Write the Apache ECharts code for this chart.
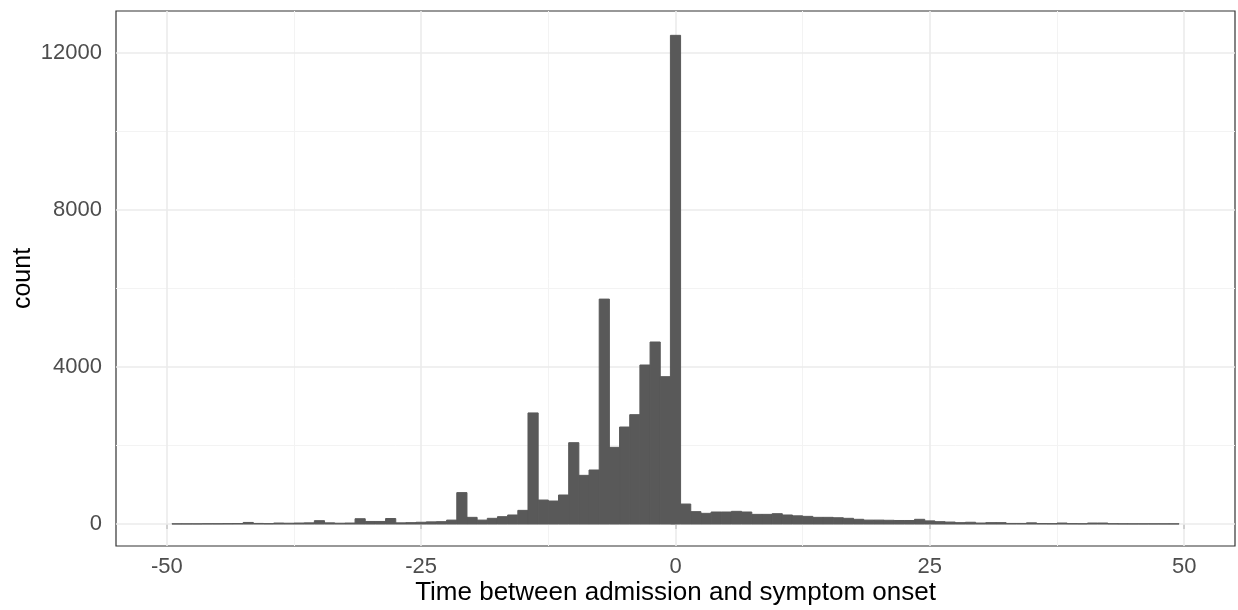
<!DOCTYPE html>
<html>
<head>
<meta charset="utf-8">
<script src="https://cdn.jsdelivr.net/npm/echarts@6/dist/echarts.min.js"></script>
<style>
  html, body { margin: 0; padding: 0; background: #ffffff; }
  #chart { width: 1238px; height: 610px; }
</style>
</head>
<body>
<div id="chart"></div>
<script>
// Days between admission and symptom onset: one bin per day, centred on whole days.
const binCentres = [
  -49, -48, -47, -46, -45, -44, -43, -42, -41, -40,
  -39, -38, -37, -36, -35, -34, -33, -32, -31, -30,
  -29, -28, -27, -26, -25, -24, -23, -22, -21, -20,
  -19, -18, -17, -16, -15, -14, -13, -12, -11, -10,
  -9, -8, -7, -6, -5, -4, -3, -2, -1, 0,
  1, 2, 3, 4, 5, 6, 7, 8, 9, 10,
  11, 12, 13, 14, 15, 16, 17, 18, 19, 20,
  21, 22, 23, 24, 25, 26, 27, 28, 29, 30,
  31, 32, 33, 34, 35, 36, 37, 38, 39, 40,
  41, 42, 43, 44, 45, 46, 47, 48, 49
];
const binCounts = [
  5, 5, 5, 8, 8, 10, 12, 40, 15, 10,
  25, 20, 25, 30, 85, 30, 20, 25, 135, 65,
  65, 140, 30, 35, 45, 55, 60, 100, 800, 170,
  100, 145, 187, 230, 348, 2830, 611, 586, 739, 2072,
  1240, 1376, 5730, 1954, 2471, 2786, 4051, 4637, 3754, 12450,
  509, 315, 272, 306, 306, 323, 306, 246, 246, 263,
  230, 209, 195, 170, 170, 160, 145, 120, 100, 100,
  95, 90, 90, 120, 80, 60, 50, 35, 45, 25,
  35, 35, 15, 15, 30, 12, 10, 25, 10, 8,
  25, 25, 8, 6, 5, 5, 5, 5, 5
];
const binWidth = 1;

// Axis breaks
const xMajorBreaks = [-50, -25, 0, 25, 50];
const xMinorBreaks = [-37.5, -12.5, 12.5, 37.5];
const yMajorBreaks = [0, 4000, 8000, 12000];
const yMinorBreaks = [2000, 6000, 10000];

const gridMajor = '#EBEBEB';
const gridMinor = '#F3F3F3';
const barFill = '#595959';

const histData = binCentres.map((c, i) => [c, binCounts[i]]);

function gridLines(values, axisKey, color, width) {
  return values.map(v => ({
    [axisKey]: v,
    lineStyle: { color: color, width: width, type: 'solid' }
  }));
}

const chart = echarts.init(document.getElementById('chart'), null, { renderer: 'canvas' });

chart.setOption({
  backgroundColor: '#ffffff',
  animation: false,
  grid: {
    left: 116, right: 3, top: 11, bottom: 64,
    containLabel: false,
    outerBoundsMode: 'none',
    show: true,
    backgroundColor: '#ffffff',
    borderColor: '#333333',
    borderWidth: 1.2
  },
  xAxis: {
    type: 'value',
    min: -55,
    max: 55,
    name: 'Time between admission and symptom onset',
    nameLocation: 'middle',
    nameMoveOverlap: false,
    nameGap: 34,
    nameTextStyle: { color: '#000000', fontSize: 26, fontFamily: 'Liberation Sans' },
    axisLine: { show: false },
    splitLine: { show: false },
    axisTick: {
      show: true, customValues: xMajorBreaks, length: 5,
      lineStyle: { color: '#333333', width: 1.5 }
    },
    axisLabel: {
      customValues: xMajorBreaks, margin: 10,
      color: '#4D4D4D', fontSize: 22, fontFamily: 'Liberation Sans',
      formatter: v => String(v)
    }
  },
  yAxis: {
    type: 'value',
    min: -560,
    max: 13070,
    name: 'count',
    nameLocation: 'middle',
    nameMoveOverlap: false,
    nameRotate: 90,
    nameGap: 80,
    nameTextStyle: { color: '#000000', fontSize: 25, fontFamily: 'Liberation Sans' },
    axisLine: { show: false },
    splitLine: { show: false },
    axisTick: {
      show: true, customValues: yMajorBreaks, length: 5,
      lineStyle: { color: '#333333', width: 1.5 }
    },
    axisLabel: {
      customValues: yMajorBreaks, margin: 14,
      color: '#4D4D4D', fontSize: 22, fontFamily: 'Liberation Sans',
      formatter: v => String(v)
    }
  },
  series: [
    {
      // panel grid lines, drawn beneath the bars
      type: 'line',
      data: [],
      z: 1,
      silent: true,
      markLine: {
        silent: true,
        symbol: 'none',
        animation: false,
        label: { show: false },
        data: [].concat(
          gridLines(xMinorBreaks, 'xAxis', gridMinor, 1),
          gridLines(yMinorBreaks, 'yAxis', gridMinor, 1),
          gridLines(xMajorBreaks, 'xAxis', gridMajor, 1.6),
          gridLines(yMajorBreaks, 'yAxis', gridMajor, 1.6)
        )
      }
    },
    {
      type: 'custom',
      z: 5,
      data: histData,
      renderItem: function (params, api) {
        const centre = api.value(0);
        const count = api.value(1);
        const p0 = api.coord([centre - binWidth / 2, 0]);
        const p1 = api.coord([centre + binWidth / 2, count]);
        return {
          type: 'rect',
          shape: { x: p0[0], y: p1[1], width: p1[0] - p0[0], height: p0[1] - p1[1] },
          style: { fill: barFill, stroke: barFill, lineWidth: 1 }
        };
      },
      encode: { x: 0, y: 1 }
    }
  ]
});
</script>
</body>
</html>
